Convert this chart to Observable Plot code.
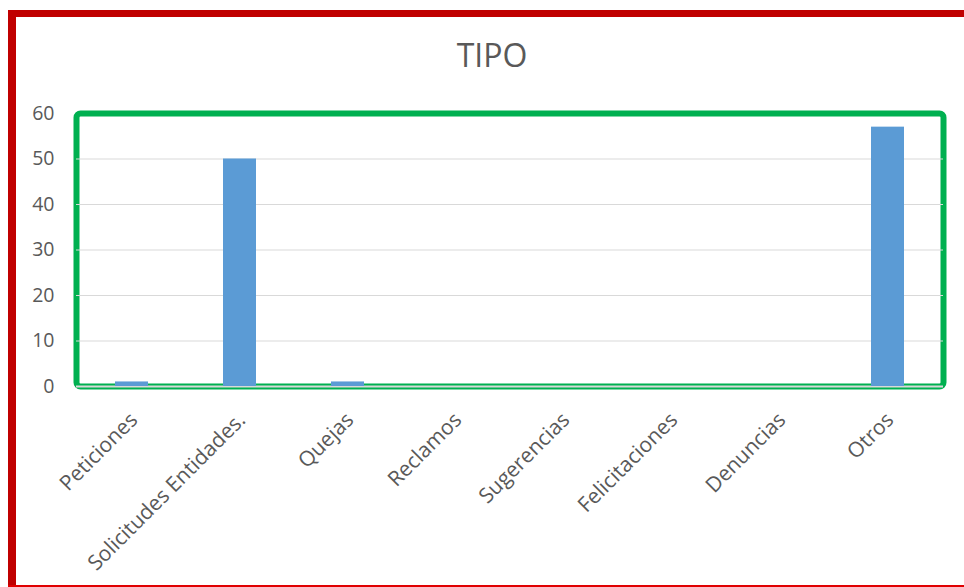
<!DOCTYPE html>
<html>
<head>
<meta charset="utf-8">
<script src="https://cdn.jsdelivr.net/npm/d3@7"></script>
<script src="https://cdn.jsdelivr.net/npm/@observablehq/plot@0.6"></script>
<style>
  html, body { margin: 0; padding: 0; background: #fff; }
  #wrap { position: relative; width: 964px; height: 587px; overflow: hidden; font-family: "Open Sans", sans-serif; }
  #wrap svg { position: absolute; left: 0; top: 0; }
  .red-left { position: absolute; left: 8px; top: 10px; width: 8px; bottom: 0; background: #C00000; }
  .red-top { position: absolute; left: 8px; top: 10px; right: 0; height: 7px; background: #C00000; }
  .red-bottom { position: absolute; left: 8px; top: 585px; right: 0; height: 2px; background: #E00000; }
  #title { position: absolute; left: 0; width: 984px; top: 35px; text-align: center; font-size: 32px; color: #595959; font-family: "Open Sans", sans-serif; line-height: 40px; }
</style>
</head>
<body>
<div id="wrap">
  <div id="title">TIPO</div>
</div>
<script>
const categories = ["Peticiones", "Solicitudes Entidades.", "Quejas", "Reclamos", "Sugerencias", "Felicitaciones", "Denuncias", "Otros"];
const values = [1, 50, 1, 0, 0, 0, 0, 57];
const yTicks = [0, 10, 20, 30, 40, 50, 60];

const data = categories.map((c, i) => ({tipo: c, n: values[i]}));

const chart = Plot.plot({
  width: 964,
  height: 587,
  marginLeft: 76,
  marginRight: 21,
  marginTop: 113,
  marginBottom: 201,
  style: {fontFamily: "Open Sans, sans-serif", fontSize: "19px", color: "#595959", background: "transparent"},
  x: {domain: categories, paddingInner: 0.695, paddingOuter: 0.3475, label: null},
  y: {domain: [0, 60], label: null},
  marks: [
    Plot.frame({stroke: "#00B050", strokeWidth: 6, rx: 4}),
    Plot.gridY(yTicks.filter(t => t > 0 && t < 60), {stroke: "#d9d9d9", strokeOpacity: 1, strokeWidth: 1.2}),
    Plot.ruleY([0], {stroke: "#d9d9d9", strokeWidth: 2}),
    Plot.barY(data, {x: "tipo", y: "n", fill: "#5B9BD5"}),
    Plot.axisY({ticks: yTicks, tickSize: 0, tickPadding: 22, label: null, fill: "#595959", fontSize: 19.5}),
    Plot.axisX({tickSize: 0, tickPadding: 0, tickRotate: -45, dx: 2, dy: 30, label: null, fill: "#595959", fontSize: 21})
  ]
});

const wrap = document.getElementById("wrap");
wrap.insertBefore(chart, wrap.firstChild);
["red-left", "red-top", "red-bottom"].forEach(c => {
  const d = document.createElement("div");
  d.className = c;
  wrap.appendChild(d);
});
</script>
</body>
</html>
